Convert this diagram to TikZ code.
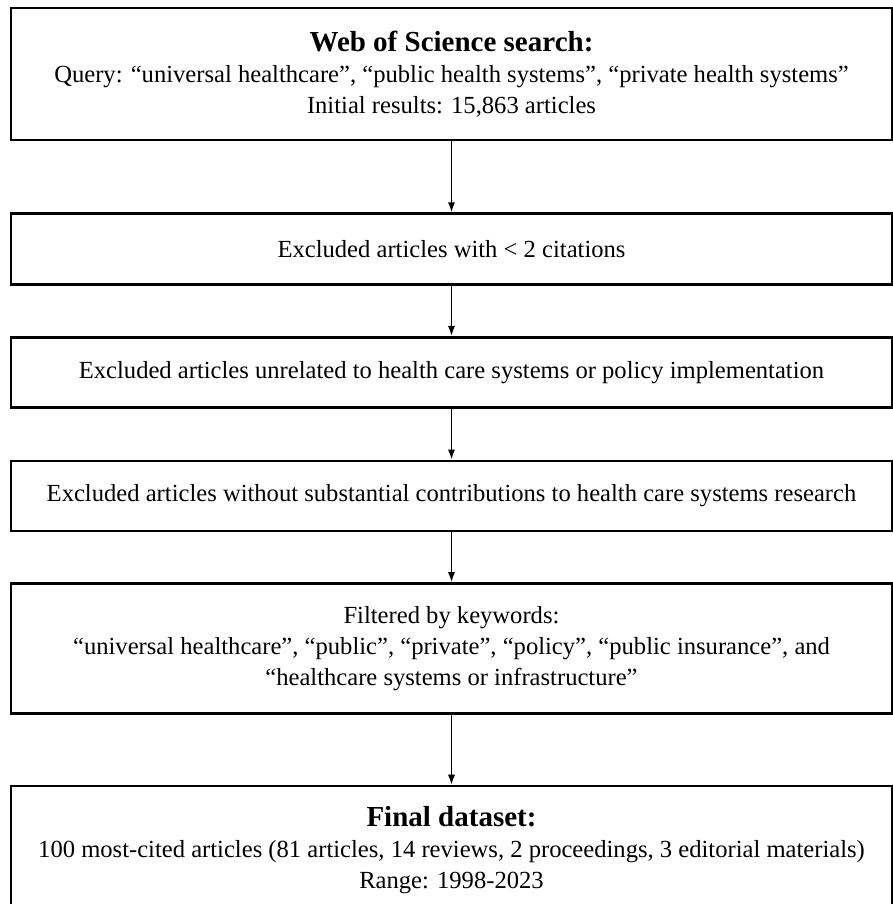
\documentclass[tikz,border=0pt]{standalone}
\usepackage{fontspec}
\setmainfont{Liberation Serif}
\usetikzlibrary{arrows.meta,positioning}
\tikzset{flowbox/.style={draw,line width=1.3pt,minimum width=440.5pt,inner sep=2pt,align=center,
		font=\fontsize{12.3}{15.5}\selectfont},
}

\begin{document}
\begin{tikzpicture}[->,>={Latex[length=5pt,width=3.6pt]},line width=0.75pt,node distance=25pt]
	\useasboundingbox (0,0) rectangle (446.5pt,-452pt);
	
	\node[flowbox,minimum height=66pt] (wos) at (225.75pt,-37pt)
	{{\fontsize{14.5}{15.5}\selectfont\bfseries Web of Science search:}\\
		Query: “universal healthcare”, “public health systems”, “private health systems”\\
		Initial results: 15,863 articles};
	\node[flowbox,minimum height=35.5pt] (cite) [below=35.5pt of wos] {Excluded articles with < 2 citations};
	\node[flowbox,minimum height=35pt] (topic) [below=25pt of cite] {Excluded articles unrelated to health care systems or policy implementation};
	\node[flowbox,minimum height=35pt] (contrib) [below=25.5pt of topic] {Excluded articles without substantial contributions to health care systems research};
	\node[flowbox,minimum height=65pt] (keyw) [below=25pt of contrib]
	{Filtered by keywords:\\
		“universal healthcare”, “public”, “private”, “policy”, “public insurance”, and\\
		“healthcare systems or infrastructure”};
	\node[flowbox,minimum height=64.5pt] (final) [below=35pt of keyw]
	{{\fontsize{14.5}{15.5}\selectfont\bfseries Final dataset:}\\
		100 most-cited articles (81 articles, 14 reviews, 2 proceedings, 3 editorial materials)\\
		Range: 1998-2023};
	
	\path
	(wos) edge (cite)
	(cite) edge (topic)
	(topic) edge (contrib)
	(contrib) edge (keyw)
	(keyw) edge (final)
	;
\end{tikzpicture}
\end{document}
